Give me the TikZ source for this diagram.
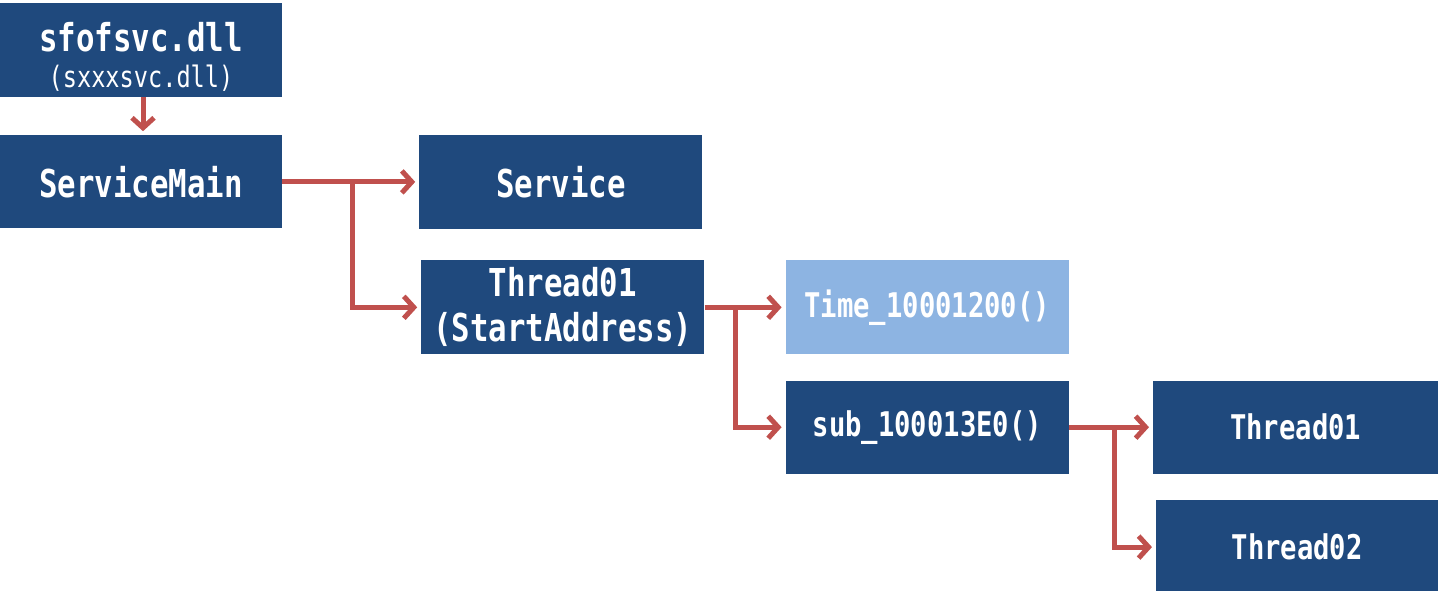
\documentclass[tikz,border=0pt]{standalone}
\usepackage{fontspec}
\newfontfamily\monobox[FakeStretch=0.8]{DejaVu Sans Mono}
\usepackage{xcolor}
\definecolor{darkbox}{RGB}{31, 73, 125}
\definecolor{lightbox}{RGB}{141, 180, 226}
\definecolor{callred}{RGB}{192, 80, 77}
\usepackage{tikz}
\usetikzlibrary{positioning, arrows.meta, calc}

\begin{document}
\begin{tikzpicture}[x=1pt, y=-1pt, node distance=26pt]

  \tikzstyle{callbox} = [
    draw=none, fill=darkbox,
    minimum width=283pt, minimum height=94pt,
    inner sep=0pt, align=center, text=white,
    font=\monobox\bfseries\fontsize{38.4}{45}\selectfont
  ]
  \tikzstyle{smallbox} = [
    callbox, font=\monobox\bfseries\fontsize{34}{40}\selectfont
  ]
  \tikzstyle{callarrow} = [
    draw=callred, line width=5pt,
    -{Straight Barb[length=10pt, width=22pt, line width=5pt]},
    shorten >=4pt
  ]

  \useasboundingbox (0,0) rectangle (1438,591);

  \node[callbox, minimum width=282pt] (dll) at (141,50)
    {\rule{0pt}{42pt}sfofsvc.dll\\[-9pt]
     {\mdseries\fontsize{29.5}{35}\selectfont(sxxxsvc.dll)}};

  \node[callbox, minimum width=282pt, minimum height=93pt, below=38pt of dll] (main)
    {ServiceMain};

  \node[callbox, right=137pt of main] (service)
    {Service};

  \node[callbox, below=31pt of service, xshift=2pt] (thr)
    {Thread01\\(StartAddress)};

  \node[smallbox, fill=lightbox, right=81pt of thr] (time)
    {Time\_10001200()};

  \node[smallbox, minimum height=93pt, below=of time] (sub)
    {sub\_100013E0()};

  \node[smallbox, minimum width=285pt, minimum height=93pt, right=84pt of sub] (t1)
    {Thread01};

  \node[smallbox, minimum width=282pt, below=of t1, xshift=1.5pt] (t2)
    {Thread02};

  % branch points
  \coordinate (b1) at ($(main.east)+(70pt,0)$);
  \coordinate (b2) at ($(thr.east)+(31pt,0)$);
  \coordinate (b3) at ($(sub.east)+(45pt,0)$);

  \draw[callarrow] ([xshift=2pt]dll.south) -- ([xshift=2pt]main.north);
  \draw[callarrow] (main.east) -- (main.east -| service.west);
  \draw[callarrow] (b1) |- (thr.west);
  \draw[callarrow] (thr.east) -- (time.west);
  \draw[callarrow] (b2) |- (sub.west);
  \draw[callarrow] (sub.east) -- (t1.west);
  \draw[callarrow] (b3) |- (t2.west);

\end{tikzpicture}
\end{document}
